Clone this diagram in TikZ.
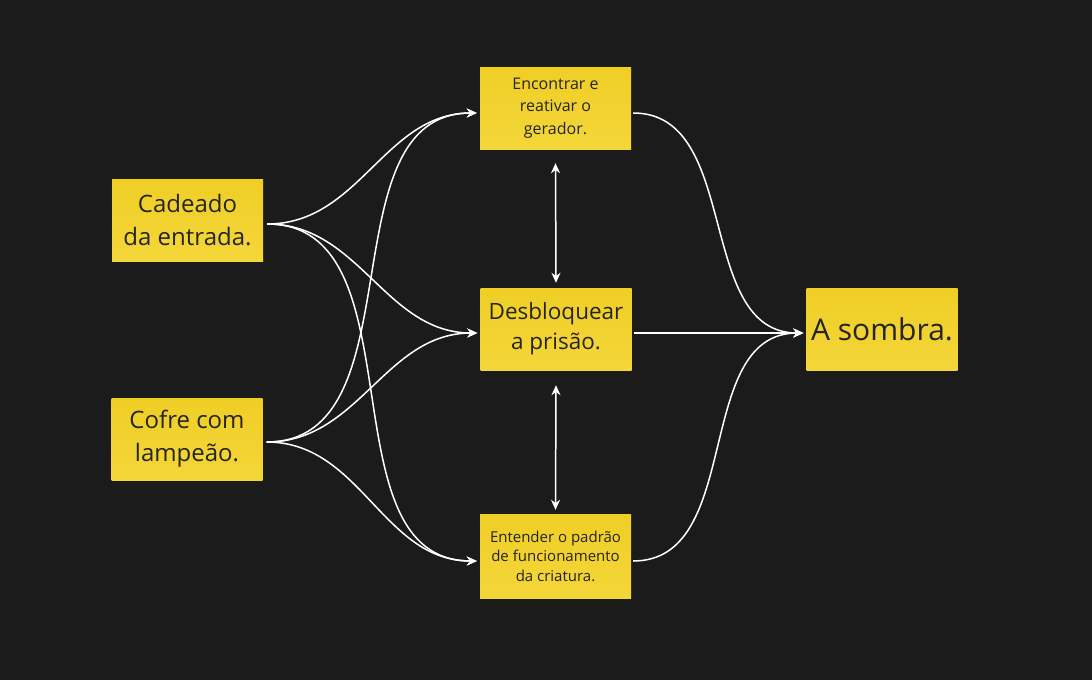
\documentclass[tikz,border=0pt]{standalone}
\usepackage{fontspec}
\setmainfont{Open Sans}
\usetikzlibrary{arrows.meta}

\definecolor{bgdark}{HTML}{1B1B1B}
\definecolor{notetop}{HTML}{F0CE26}
\definecolor{notebot}{HTML}{F3D639}
\definecolor{notetext}{HTML}{252525}

\tikzset{
	note/.style={top color=notetop, bottom color=notebot, text=notetext, minimum width=151pt, minimum height=82pt, inner sep=0pt, align=center},
	link/.style={draw=white, line width=1.5pt, -{Stealth[length=10pt,width=9pt]}},
	bothlink/.style={draw=white, line width=1.5pt, {Stealth[length=10pt,width=9pt]}-{Stealth[length=10pt,width=9pt]}}
}

\begin{document}
\begin{tikzpicture}[x=1pt,y=-1pt]
	\fill[bgdark] (0,0) rectangle (1092,680);
	\useasboundingbox (0,0) rectangle (1092,680);
	
	% notas
	\node[note, font=\fontsize{24}{33}\selectfont] (cadeado) at (187.5,220) {Cadeado\\da entrada.};
	\node[note, font=\fontsize{24}{33}\selectfont] (cofre) at (187,439) {Cofre com\\lampeão.};
	\node[note, font=\fontsize{16}{22.5}\selectfont] (gerador) at (555.5,108) {Encontrar e\\reativar o\\gerador.};
	\node[note, font=\fontsize{22.5}{30}\selectfont] (prisao) at (556,329) {Desbloquear\\a prisão.};
	\node[note, font=\fontsize{15}{19.5}\selectfont, minimum height=84pt] (criatura) at (555.5,556) {Entender o padrão\\de funcionamento\\da criatura.};
	\node[note, font=\fontsize{30}{36}\selectfont] (sombra) at (882,329) {A sombra.};
	
	% pontas das ligacoes
	\coordinate (cadout) at ([shift={(4,4)}]cadeado.east);
	\coordinate (cofout) at ([shift={(4,3)}]cofre.east);
	\coordinate (gerin) at ([shift={(-3,5)}]gerador.west);
	\coordinate (prisin) at ([shift={(-3,4)}]prisao.west);
	\coordinate (criin) at ([shift={(-3,5)}]criatura.west);
	\coordinate (gerout) at ([shift={(2,5)}]gerador.east);
	\coordinate (prisout) at ([shift={(2,4)}]prisao.east);
	\coordinate (criout) at ([shift={(2,5)}]criatura.east);
	\coordinate (sombin) at ([shift={(-3,4)}]sombra.west);
	
	\foreach \src in {cadout,cofout}{
		\foreach \dst in {gerin,prisin,criin}{
			\draw[link] (\src) to[out=0,in=180] (\dst);
		}
	}
	\foreach \src in {gerout,prisout,criout}{
		\draw[link] (\src) to[out=0,in=180] (sombin);
	}
	
	\draw[bothlink] ([yshift=-14pt]gerador.south) -- ([yshift=5pt]prisao.north);
	\draw[bothlink] ([yshift=-15pt]prisao.south) -- ([yshift=4pt]criatura.north);
\end{tikzpicture}
\end{document}
